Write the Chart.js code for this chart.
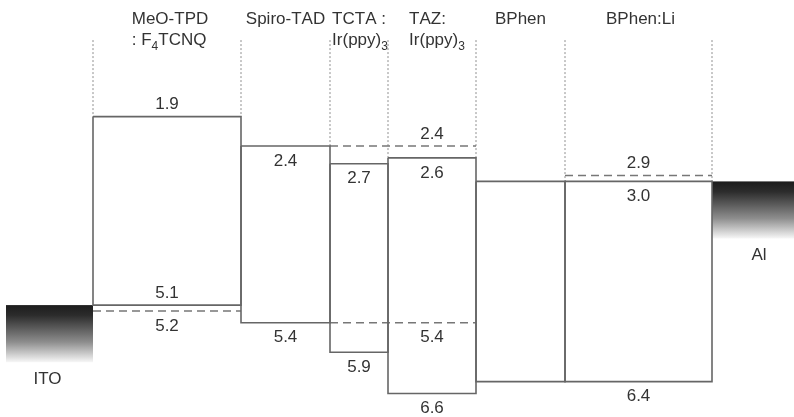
<!DOCTYPE html>
<html><head><meta charset="utf-8">
<script src="https://cdn.jsdelivr.net/npm/chart.js@4"></script>
<style>html,body{margin:0;padding:0;background:#fff}#wrap{width:794px;height:417px;position:relative}</style>
</head><body><div id="wrap"><canvas id="c"></canvas></div>
<script>
// ---- data ----
const layerNames = ['MeO-TPD\n: F_4TCNQ', 'Spiro-TAD', 'TCTA :\nIr(ppy)_3', 'TAZ:\nIr(ppy)_3', 'BPhen', 'BPhen:Li'];
const layerEdges = [93, 241, 330, 388, 476, 565, 712];     // diagram x units
const lumoLevels = [1.9, 2.4, 2.7, 2.6, 3.0, 3.0];          // eV
const homoLevels = [5.1, 5.4, 5.9, 6.6, 6.4, 6.4];          // eV
const dopantLevels = [5.2, 2.4, 5.4, 2.9];                  // eV (dashed)
const dopantFirstLayer = [0, 2, 2, 5];
const dopantLastLayer = [0, 3, 3, 5];
const electrodeNames = ['ITO', 'Al'];
const electrodeLevels = [5.1, 3.0];
const electrodeSpans = [[6, 93], [712, 794]];

// ---- style ----
const lumoLabelSide = ['above', 'below', 'below', 'below', 'none', 'below'];
const homoLabelSide = ['above', 'below', 'below', 'below', 'none', 'below'];
const dopantLabelSide = ['below', 'above', 'below', 'above'];
const headerShift = [3, 0, 1, 5, 0, 2];
const LINE = '#666', DASH = '#777', DOT = '#8f8f8f', TXT = '#333';
const FONT = '17px "Liberation Sans", Arial, sans-serif';
const SUBFONT = '12px "Liberation Sans", Arial, sans-serif';
const HEADER_BOTTOM = 0.6;

const datasets = [];
layerNames.forEach((n, i) => {
  const a = layerEdges[i], b = layerEdges[i + 1];
  datasets.push({ data: [{x:a,y:lumoLevels[i]},{x:b,y:lumoLevels[i]},{x:b,y:homoLevels[i]},{x:a,y:homoLevels[i]},{x:a,y:lumoLevels[i]}],
    borderColor: LINE, borderWidth: 1.6 });
});
dopantLevels.forEach((lv, i) => {
  datasets.push({ data: [{x:layerEdges[dopantFirstLayer[i]], y:lv}, {x:layerEdges[dopantLastLayer[i] + 1], y:lv}],
    borderColor: DASH, borderWidth: 1.5, borderDash: [8, 5] });
});
layerEdges.forEach((e, k) => {
  const tops = [];
  if (k > 0) tops.push(lumoLevels[k - 1]);
  if (k < lumoLevels.length) tops.push(lumoLevels[k]);
  datasets.push({ data: [{x:e, y:HEADER_BOTTOM}, {x:e, y:Math.min(...tops)}],
    borderColor: DOT, borderWidth: 1, borderDash: [2, 2] });
});
datasets.forEach(d => { d.showLine = true; d.pointRadius = 0; d.fill = false; d.tension = 0; });

function richSegs(ctx, str) {
  const segs = [];
  for (let i = 0; i < str.length; i++) {
    if (str[i] === '_' && i + 1 < str.length) { segs.push({t: str[i + 1], sub: true}); i++; }
    else segs.push({t: str[i], sub: false});
  }
  segs.w = 0;
  segs.forEach(s => { ctx.font = s.sub ? SUBFONT : FONT; s.w = ctx.measureText(s.t).width; segs.w += s.w; });
  return segs;
}
function drawSegs(ctx, segs, left, cy) {
  let xx = left;
  ctx.textAlign = 'left';
  segs.forEach(s => { ctx.font = s.sub ? SUBFONT : FONT; ctx.fillText(s.t, xx, cy + (s.sub ? 7 : 0)); xx += s.w; });
}

const plugin = {
  id: 'energy',
  beforeDatasetsDraw(chart) {
    const {ctx, scales: {x, y}} = chart;
    ctx.save();
    electrodeLevels.forEach((lv, i) => {
      const x0 = x.getPixelForValue(electrodeSpans[i][0]), x1 = x.getPixelForValue(electrodeSpans[i][1]);
      const y0 = y.getPixelForValue(lv), y1 = y.getPixelForValue(lv + 0.97);
      const g = ctx.createLinearGradient(0, y0, 0, y1);
      g.addColorStop(0, '#1c1c1c'); g.addColorStop(0.18, '#2c2c2c'); g.addColorStop(0.65, '#8e8e8e'); g.addColorStop(1, '#f7f7f7');
      ctx.fillStyle = g;
      ctx.fillRect(x0, y0, x1 - x0, y1 - y0);
    });
    ctx.restore();
  },
  afterDatasetsDraw(chart) {
    const {ctx, scales: {x, y}} = chart;
    ctx.save();
    ctx.fillStyle = TXT;
    ctx.textBaseline = 'middle';
    const mid = (a, b) => (x.getPixelForValue(a) + x.getPixelForValue(b)) / 2;
    layerNames.forEach((name, i) => {
      const cx = mid(layerEdges[i], layerEdges[i + 1]) + headerShift[i];
      const lines = name.split('\n').map(l => richSegs(ctx, l));
      const maxW = Math.max(...lines.map(s => s.w));
      lines.forEach((segs, j) => {
        const left = lines.length > 1 ? cx - maxW / 2 : cx - segs.w / 2;
        drawSegs(ctx, segs, left, 19 + j * 21);
      });
    });
    ctx.font = FONT; ctx.textAlign = 'center';
    const put = (val, cx, side) => {
      if (side === 'none') return;
      ctx.fillText(val.toFixed(1), cx, y.getPixelForValue(val) + (side === 'above' ? -12 : 15));
    };
    layerNames.forEach((n, i) => {
      const cx = mid(layerEdges[i], layerEdges[i + 1]);
      put(lumoLevels[i], cx, lumoLabelSide[i]);
      put(homoLevels[i], cx, homoLabelSide[i]);
    });
    dopantLevels.forEach((lv, i) => {
      const L = dopantLastLayer[i];
      put(lv, mid(layerEdges[L], layerEdges[L + 1]), dopantLabelSide[i]);
    });
    electrodeNames.forEach((n, i) => {
      const cx = mid(electrodeSpans[i][0], electrodeSpans[i][1]) + (i === 1 ? 6 : -2);
      ctx.fillText(n, cx, y.getPixelForValue(electrodeLevels[i]) + 74);
    });
    ctx.restore();
  }
};

new Chart(document.getElementById('c'), {
  type: 'scatter',
  data: { datasets },
  options: {
    responsive: true, maintainAspectRatio: false, animation: false, events: [],
    layout: { padding: 0 },
    plugins: { legend: { display: false }, tooltip: { enabled: false } },
    scales: {
      x: { type: 'linear', min: 0, max: 794, display: false },
      y: { type: 'linear', min: -0.08, max: 7.0, reverse: true, display: false }
    }
  },
  plugins: [plugin]
});
</script>
</body></html>
